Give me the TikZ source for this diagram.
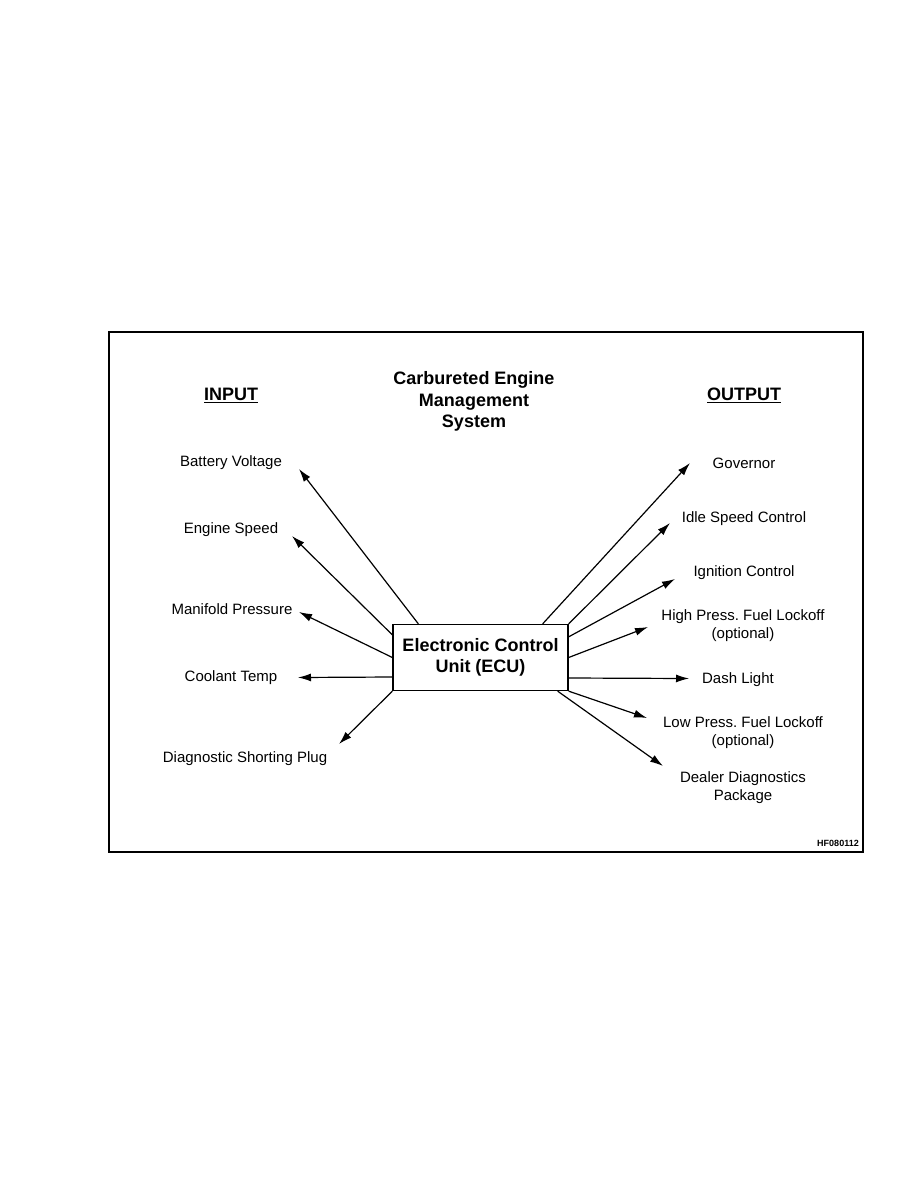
\documentclass[tikz,border=0pt]{standalone}
\usepackage{fontspec}
\setmainfont{Liberation Sans}
\usetikzlibrary{arrows.meta,calc}
\frenchspacing
\begin{document}
\begin{tikzpicture}[x=1pt,y=-1pt,
  lbl/.style={font=\fontsize{15}{18.5}\selectfont, align=center, inner sep=0pt, anchor=base},
  hd/.style={font=\fontsize{18}{21.5}\selectfont\bfseries, align=center, inner sep=0pt},
  conn/.style={line width=1.2pt, -{Latex[length=13pt,width=8pt]}}]
\useasboundingbox (0,0) rectangle (918,1188);
\fill[white] (0,0) rectangle (918,1188);
\node[draw, line width=1.8pt, minimum width=754pt, minimum height=520pt, inner sep=0pt, anchor=north west] (frame) at (108,331) {};
% headings
\node[hd] (title) at (474,401.5) {Carbureted Engine\\Management\\System};
\node[hd, anchor=base] (input) at (231,400.5) {\underline{INPUT}};
\node[hd, anchor=base] (output) at (744,400.5) {\underline{OUTPUT}};
% ECU
\node[draw, line width=1.3pt, minimum width=175pt, minimum height=66pt, inner sep=0pt, align=center,
      font=\fontsize{18}{21.5}\selectfont\bfseries] (ecu) at (480.5,657.5) {Electronic Control\\Unit (ECU)};
% input labels
\node[lbl] (bv) at (231,466) {Battery Voltage};
\node[lbl] (es) at (231,533) {Engine Speed};
\node[lbl] (mp) at (232,614) {Manifold Pressure};
\node[lbl] (ct) at (231,681) {Coolant Temp};
\node[lbl] (dsp) at (245,762) {Diagnostic Shorting Plug};
% output labels
\node[lbl] (gov) at (744,468) {Governor};
\node[lbl] (isc) at (744,522) {Idle Speed Control};
\node[lbl] (ign) at (744,576) {Ignition Control};
\node[lbl] (hp) at (743,638.5) {High Press. Fuel Lockoff\\(optional)};
\node[lbl] (dl) at (738,683) {Dash Light};
\node[lbl] (lp) at (743,745.5) {Low Press. Fuel Lockoff\\(optional)};
\node[lbl] (ddp) at (743,800.5) {Dealer Diagnostics\\Package};
\node[font=\fontsize{9}{10}\selectfont\bfseries, inner sep=0pt, anchor=base] (code) at (838,846) {HF080112};
% arrow tips
\coordinate (tbv) at (299,469);
\coordinate (tes) at (292,536);
\coordinate (tmp) at (299,612);
\coordinate (tct) at (298,677.5);
\coordinate (tdsp) at (339,744);
\coordinate (tgov) at (690,463);
\coordinate (tisc) at (670,523);
\coordinate (tign) at (675,579);
\coordinate (thp) at (648,627);
\coordinate (tdl) at (689,678.5);
\coordinate (tlp) at (647,718);
\coordinate (tddp) at (663,766);
% connectors
\draw[conn] ([xshift=26pt]ecu.north west) -- (tbv);
\draw[conn] ([yshift=-11pt]ecu.north west) -- (tes);
\draw[conn] (ecu.west) -- (tmp);
\draw[conn] ([yshift=-19.5pt]ecu.west) -- (tct);
\draw[conn] (ecu.south west) -- (tdsp);
\draw[conn] ([xshift=-26pt]ecu.north east) -- (tgov);
\draw[conn] (ecu.north east) -- (tisc);
\draw[conn] ([yshift=-13pt]ecu.north east) -- (tign);
\draw[conn] (ecu.east) -- (thp);
\draw[conn] ([yshift=-20.5pt]ecu.east) -- (tdl);
\draw[conn] (ecu.south east) -- (tlp);
\draw[conn] ([xshift=-11pt]ecu.south east) -- (tddp);
\end{tikzpicture}
\end{document}
